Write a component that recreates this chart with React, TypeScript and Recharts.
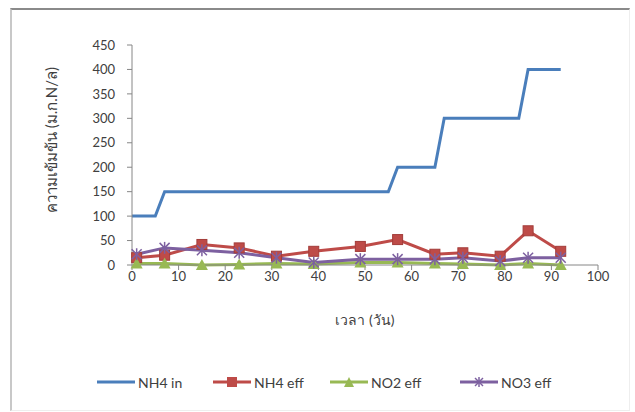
import React from "react";
import { LineChart, Line, XAxis, YAxis } from "recharts";

/* 时间轴刻度 */
const X_TICKS = [0, 10, 20, 30, 40, 50, 60, 70, 80, 90, 100];
const Y_TICKS = [0, 50, 100, 150, 200, 250, 300, 350, 400, 450];

/* NH4 in 阶梯线 */
const NH4_IN_DAYS = [0, 5, 7, 55, 57, 65, 67, 83, 85, 92];
const NH4_IN_VALUES = [100, 100, 150, 150, 200, 200, 300, 300, 400, 400];

/* 出水采样日 */
const EFF_DAYS = [1, 7, 15, 23, 31, 39, 49, 57, 65, 71, 79, 85, 92];
const NH4_EFF = [15, 20, 42, 35, 18, 28, 38, 52, 22, 25, 18, 70, 28];
const NO2_EFF = [3, 3, 0, 1, 3, 2, 5, 5, 3, 2, 0, 3, 0];
const NO3_EFF = [22, 35, 30, 25, 15, 5, 12, 12, 12, 15, 8, 15, 15];

const SERIES_NAMES = ["NH4 in", "NH4 eff", "NO2 eff", "NO3 eff"];
const COLORS = ["#4a7ebb", "#be4b48", "#98b954", "#7d60a0"];

const nh4InData = NH4_IN_DAYS.map((d, i) => ({ day: d, v: NH4_IN_VALUES[i] }));
const nh4EffData = EFF_DAYS.map((d, i) => ({ day: d, v: NH4_EFF[i] }));
const no2EffData = EFF_DAYS.map((d, i) => ({ day: d, v: NO2_EFF[i] }));
const no3EffData = EFF_DAYS.map((d, i) => ({ day: d, v: NO3_EFF[i] }));

const FONT = "Lato, 'Noto Sans', sans-serif";

const SquareDot = (p: any) => (
  <rect key={p.index} x={p.cx - 5} y={p.cy - 5} width={10} height={10} fill={COLORS[1]} stroke="#a33c39" strokeWidth={1} />
);
const TriangleDot = (p: any) => (
  <path key={p.index} d={`M${p.cx},${p.cy - 6} L${p.cx + 6},${p.cy + 5} L${p.cx - 6},${p.cy + 5} Z`} fill={COLORS[2]} />
);
const StarDot = (p: any) => (
  <g key={p.index} stroke={COLORS[3]} strokeWidth={1.5}>
    <line x1={p.cx - 5} y1={p.cy - 5} x2={p.cx + 5} y2={p.cy + 5} />
    <line x1={p.cx - 5} y1={p.cy + 5} x2={p.cx + 5} y2={p.cy - 5} />
    <line x1={p.cx} y1={p.cy - 6} x2={p.cx} y2={p.cy + 6} />
  </g>
);

function LegendIcon({ i }: { i: number }) {
  return (
    <svg width={38} height={12} style={{ verticalAlign: "middle" }}>
      <line x1={0} y1={6} x2={38} y2={6} stroke={COLORS[i]} strokeWidth={3} />
      {i === 1 && <rect x={14} y={1} width={10} height={10} fill={COLORS[1]} />}
      {i === 2 && <path d="M19,1 L24,11 L14,11 Z" fill={COLORS[2]} />}
      {i === 3 && (
        <g stroke={COLORS[3]} strokeWidth={1.5}>
          <line x1={15} y1={2} x2={23} y2={10} />
          <line x1={15} y1={10} x2={23} y2={2} />
          <line x1={19} y1={1} x2={19} y2={11} />
        </g>
      )}
    </svg>
  );
}

const LEGEND_X = [97, 213, 330, 460];

export default function App() {
  const tick = { fill: "#404040", fontSize: 13, fontFamily: FONT };
  return (
    <div style={{ position: "absolute", left: 0, top: 0, width: 635, height: 412, background: "#fff" }}>
      <div
        style={{
          position: "absolute",
          left: 10,
          top: 8,
          width: 617,
          height: 400,
          borderTop: "2px solid #8a8a8a",
          borderLeft: "2px solid #c8c8c8",
          borderRight: "1px solid #eeeeee",
          borderBottom: "1px solid #eeeeee",
        }}
      />
      <div style={{ position: "absolute", left: 0, top: 0 }}>
        <LineChart width={635} height={412} margin={{ top: 45, right: 37, bottom: 0, left: 0 }}>
          <XAxis
            type="number"
            dataKey="day"
            domain={[0, 100]}
            ticks={X_TICKS}
            allowDuplicatedCategory={false}
            height={147}
            tick={tick}
            tickLine={{ stroke: "#868686" }}
            tickSize={5}
            axisLine={{ stroke: "#868686" }}
            label={{ value: "เวลา (วัน)", position: "insideTop", offset: 50, fill: "#404040", fontSize: 14, fontFamily: FONT }}
          />
          <YAxis
            type="number"
            domain={[0, 450]}
            ticks={Y_TICKS}
            width={132}
            tick={tick}
            tickLine={{ stroke: "#868686" }}
            tickSize={5}
            tickMargin={12}
            axisLine={{ stroke: "#868686" }}
            label={{ value: "ความเข้มข้น (ม.ก.N/ล)", angle: -90, position: "center", dx: -14, dy: -15, fill: "#404040", fontSize: 15, fontFamily: FONT }}
          />
          <Line data={nh4InData} dataKey="v" name={SERIES_NAMES[0]} stroke={COLORS[0]} strokeWidth={3} dot={false} isAnimationActive={false} type="linear" />
          <Line data={nh4EffData} dataKey="v" name={SERIES_NAMES[1]} stroke={COLORS[1]} strokeWidth={3} dot={SquareDot} isAnimationActive={false} type="linear" />
          <Line data={no2EffData} dataKey="v" name={SERIES_NAMES[2]} stroke={COLORS[2]} strokeWidth={3} dot={TriangleDot} isAnimationActive={false} type="linear" />
          <Line data={no3EffData} dataKey="v" name={SERIES_NAMES[3]} stroke={COLORS[3]} strokeWidth={3} dot={StarDot} isAnimationActive={false} type="linear" />
        </LineChart>
      </div>
      {/* 图例 */}
      {SERIES_NAMES.map((name, i) => (
        <div
          key={name}
          style={{ position: "absolute", left: LEGEND_X[i], top: 372, fontFamily: FONT, fontSize: 14, color: "#404040", whiteSpace: "nowrap" }}
        >
          <LegendIcon i={i} />
          <span style={{ marginLeft: 3, verticalAlign: "middle" }}>{name}</span>
        </div>
      ))}
    </div>
  );
}
